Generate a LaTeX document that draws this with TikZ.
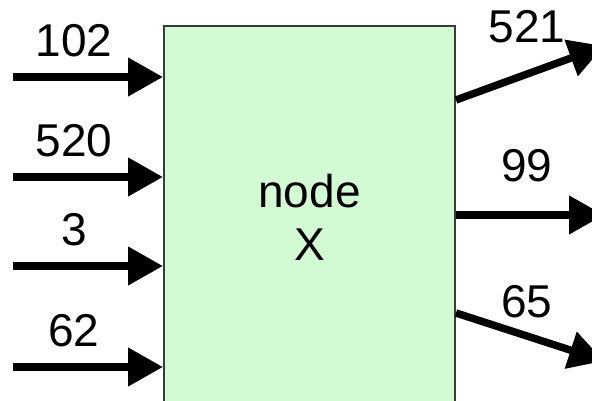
\documentclass[tikz,border=0pt]{standalone}
\usepackage{fontspec}
\setmainfont{Liberation Sans}
\usetikzlibrary{arrows.meta}
\definecolor{blockgreen}{HTML}{D3FBD3}
\definecolor{blockline}{HTML}{3A3A3A}
\tikzstyle{block}=[draw=blockline, line width=2pt, fill=blockgreen
,minimum width=291pt, minimum height=383pt
,inner sep=0pt, align=center
,font=\fontsize{46}{53}\selectfont
]
\tikzstyle{flow} = [draw, line width=7.5pt, -{Triangle[length=35pt,width=37pt]}]
\tikzstyle{lbl} = [anchor=base, inner sep=0pt, font=\fontsize{46}{52}\selectfont]

\begin{document}
\begin{tikzpicture}[x=1pt,y=1pt]
    \useasboundingbox (0,0) rectangle (592,401);
    \clip (0,0) rectangle (592,401);
    % The block itself, cut off at the bottom
    \node[block] (X) at (309.5,183.5) {node\\X};

    % Incoming flows on the left
    \foreach \y/\txt/\name in {324/102/a, 224/520/b, 135/3/c, 34/62/d} {
        \coordinate (in\name) at (13,\y);
        \path[flow] (in\name) -- (in\name -| X.west);
        \node[lbl] (l\name) at (74,\y+20) {\txt};
    }

    % Outgoing flows on the right
    \foreach \ys/\ye/\yl/\txt/\name in {301/355/358/521/e, 186/186/219/99/f, 88/40/83/65/g} {
        \coordinate (s\name) at (455,\ys);
        \coordinate (out\name) at (604,\ye);
        \path[flow] (s\name -| X.east) -- (out\name);
        \node[lbl] (l\name) at (527,\yl) {\txt};
    }
\end{tikzpicture}
\end{document}
